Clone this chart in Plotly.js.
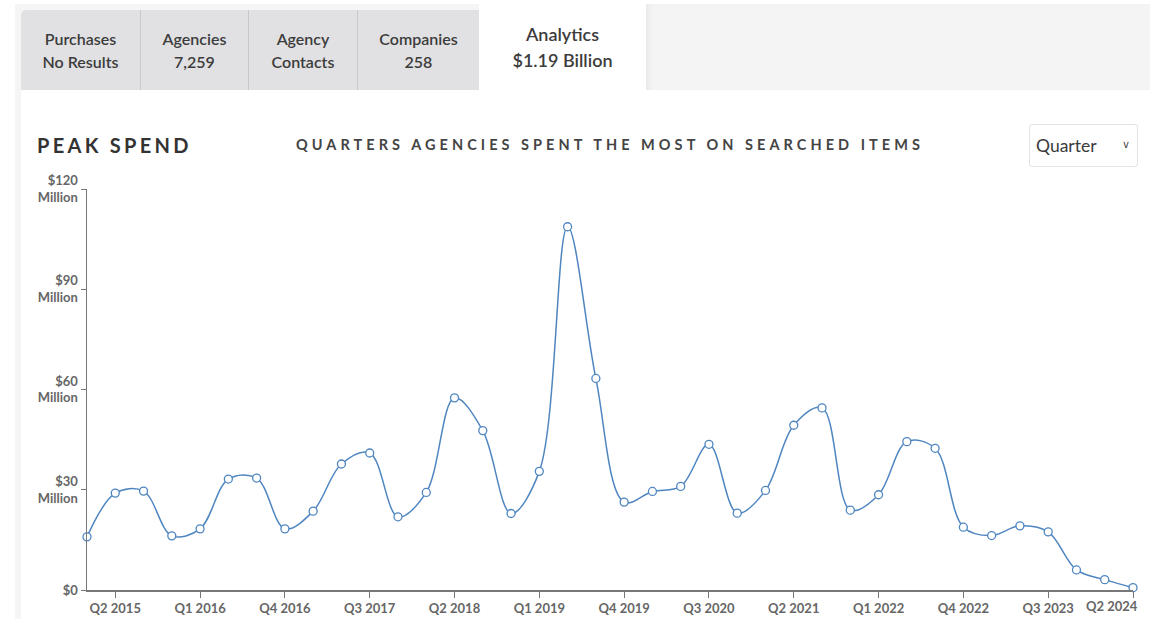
<!DOCTYPE html>
<html>
<head>
<meta charset="utf-8">
<script src="https://cdn.plot.ly/plotly-3.0.1.min.js"></script>
<style>
  body { margin:0; background:#fff; font-family: Lato, "Open Sans", sans-serif; width:1165px; height:619px; overflow:hidden; position:relative; }
  .abs { position:absolute; }
  #frame { left:15px; top:4px; width:1135px; height:615px; background:#f5f5f5; }
  #content { left:21px; top:90px; width:1129px; height:529px; background:#fff; }
  .tab { top:10px; height:80px; background:#e1e1e3; display:flex; align-items:center; justify-content:center; text-align:center; color:#3c3c3c; font-size:16px; font-weight:600; line-height:23px; box-sizing:border-box; }
  .sep { border-right:1px solid #c9c9cd; }
  #active { left:479px; top:4px; width:167px; height:86px; background:#fff; display:flex; align-items:center; justify-content:center; text-align:center; color:#3c3c3c; font-size:18px; font-weight:600; line-height:26px; padding-top:0px; box-sizing:border-box; }
  #rest { left:646px; top:4px; width:504px; height:86px; background:#f4f4f4; box-shadow: inset 6px 0 6px -4px rgba(0,0,0,0.06); }
  #h1 { left:37px; top:133px; font-size:20px; font-weight:700; letter-spacing:3.3px; color:#333; white-space:nowrap; }
  #h2 { left:296px; top:136px; font-size:14.5px; font-weight:700; letter-spacing:4.05px; color:#444; white-space:nowrap; }
  #sel { left:1029px; top:124px; width:109px; height:43px; border:1px solid #e3e3e3; border-radius:3px; box-sizing:border-box; background:#fff; font-size:17.5px; color:#3a3a3a; }
  #sel span.t { position:absolute; left:6px; top:10px; }
  #sel span.c { position:absolute; left:92px; top:12px; font-size:11px; color:#555; }
  #chart { left:0px; top:170px; width:1165px; height:449px; }
</style>
</head>
<body>
<div id="frame" class="abs"></div>
<div id="content" class="abs"></div>
<div class="abs tab sep" style="left:21px;width:120px;border-top-left-radius:5px;">Purchases<br>No Results</div>
<div class="abs tab sep" style="left:141px;width:108px;">Agencies<br>7,259</div>
<div class="abs tab sep" style="left:249px;width:109px;">Agency<br>Contacts</div>
<div class="abs tab" style="left:358px;width:121px;">Companies<br>258</div>
<div id="active" class="abs">Analytics<br>$1.19 Billion</div>
<div id="rest" class="abs"></div>
<div id="h1" class="abs">PEAK SPEND</div>
<div id="h2" class="abs">QUARTERS AGENCIES SPENT THE MOST ON SEARCHED ITEMS</div>
<div id="sel" class="abs"><span class="t">Quarter</span><span class="c">&#8744;</span></div>
<div id="chart" class="abs"></div>
<script>
const quarters = [
  "Q1 2015","Q2 2015","Q3 2015","Q4 2015",
  "Q1 2016","Q2 2016","Q3 2016","Q4 2016",
  "Q1 2017","Q2 2017","Q3 2017","Q4 2017",
  "Q1 2018","Q2 2018","Q3 2018","Q4 2018",
  "Q1 2019","Q2 2019","Q3 2019","Q4 2019",
  "Q1 2020","Q2 2020","Q3 2020","Q4 2020",
  "Q1 2021","Q2 2021","Q3 2021","Q4 2021",
  "Q1 2022","Q2 2022","Q3 2022","Q4 2022",
  "Q1 2023","Q2 2023","Q3 2023","Q4 2023",
  "Q1 2024","Q2 2024"
];
const spendMillions = [
  15.9, 29.0, 29.6, 16.2,
  18.3, 33.2, 33.5, 18.3,
  23.6, 37.7, 41.0, 21.9,
  29.2, 57.5, 47.7, 22.9,
  35.5, 108.7, 63.3, 26.3,
  29.5, 31.0, 43.6, 23.0,
  29.8, 49.3, 54.5, 23.9,
  28.5, 44.4, 42.4, 18.8,
  16.3, 19.2, 17.4, 6.0,
  3.1, 0.7
];
const xTickLabels = ["Q2 2015","Q1 2016","Q4 2016","Q3 2017","Q2 2018","Q1 2019","Q4 2019","Q3 2020","Q2 2021","Q1 2022","Q4 2022","Q3 2023","Q2 2024"];
const yTickValues = [0, 30, 60, 90, 120];
const yTickLabels = ["$0", "$30<br>Million", "$60<br>Million", "$90<br>Million", "$120<br>Million"];

const lineColor = "#4f86c0";
const tickFont = {family: "Lato, 'Open Sans', sans-serif", size: 13, color: "#666", weight: 700};

// last tick label is right-aligned to stay inside the card, as in the original
const lastLabel = xTickLabels[xTickLabels.length - 1];
const shownTickText = xTickLabels.map((t, i) => i === xTickLabels.length - 1 ? "" : t);

Plotly.newPlot("chart", [{
  x: quarters,
  y: spendMillions,
  type: "scatter",
  mode: "lines+markers",
  line: {shape: "spline", smoothing: 1, color: lineColor, width: 1.5},
  marker: {size: 8, color: "#fff", line: {color: lineColor, width: 1.3}},
  cliponaxis: false,
  hoverinfo: "x+y"
}], {
  width: 1165, height: 449,
  margin: {l: 87, r: 32, t: 19, b: 29},
  paper_bgcolor: "rgba(0,0,0,0)",
  plot_bgcolor: "rgba(0,0,0,0)",
  showlegend: false,
  xaxis: {
    type: "category",
    range: [0, quarters.length - 1],
    tickvals: xTickLabels,
    ticktext: shownTickText,
    ticks: "outside", ticklen: 6, tickwidth: 1, tickcolor: "#777",
    showline: true, linecolor: "#777", linewidth: 1.5,
    showgrid: false, zeroline: false,
    tickfont: tickFont
  },
  yaxis: {
    range: [0, 120],
    tickvals: yTickValues,
    ticktext: yTickLabels,
    ticks: "outside", ticklen: 5, tickwidth: 1, tickcolor: "#777",
    showline: true, linecolor: "#777", linewidth: 1.5,
    showgrid: false, zeroline: false,
    tickfont: tickFont
  },
  annotations: [{
    text: lastLabel,
    x: lastLabel, xref: "x",
    y: 0, yref: "paper",
    xanchor: "right", yanchor: "top",
    xshift: 7, yshift: -6,
    showarrow: false,
    font: tickFont
  }]
}, {displayModeBar: false, staticPlot: true});
</script>
</body>
</html>
